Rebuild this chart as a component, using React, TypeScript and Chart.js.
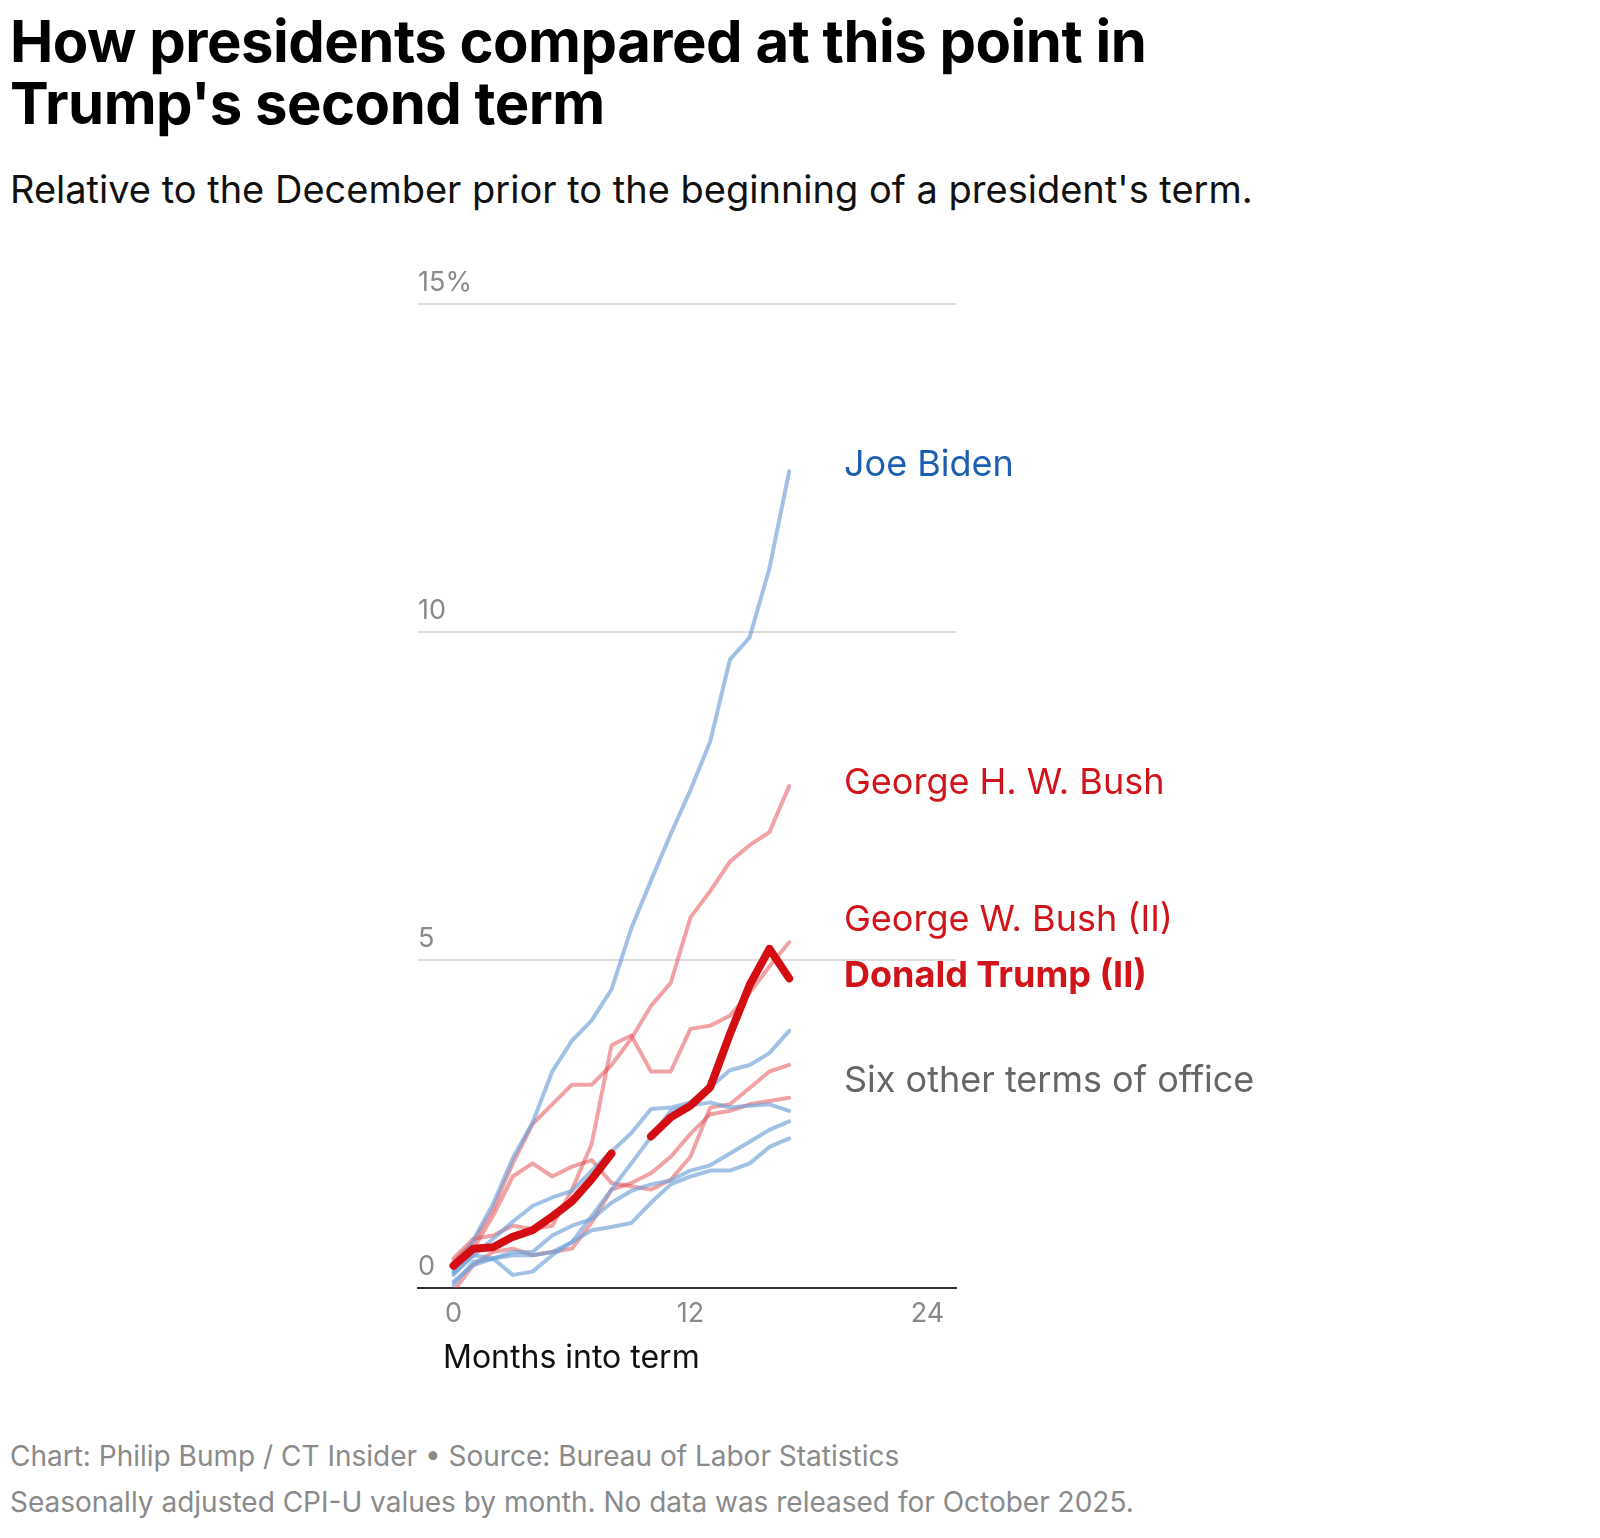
import React, { useEffect, useRef } from "react";
import { Chart, registerables } from "chart.js";
Chart.register(...registerables);

const months = [0, 1, 2, 3, 4, 5, 6, 7, 8, 9, 10, 11, 12, 13, 14, 15, 16, 17];
const biden = [0.26, 0.73, 1.28, 1.98, 2.52, 3.3, 3.77, 4.08, 4.55, 5.48, 6.21, 6.92, 7.59, 8.33, 9.58, 9.92, 10.97, 12.45];
const ghwBush = [0.4, 0.7, 1.2, 1.9, 2.5, 2.8, 3.1, 3.1, 3.4, 3.8, 4.3, 4.65, 5.65, 6.05, 6.5, 6.75, 6.95, 7.65];
const gwBush2 = [0.45, 0.75, 0.8, 0.95, 0.9, 0.95, 1.5, 2.2, 3.7, 3.85, 3.3, 3.3, 3.95, 4.0, 4.15, 4.5, 4.9, 5.27];
const trump2 = [0.34, 0.6, 0.62, 0.78, 0.88, 1.09, 1.32, 1.66, 2.05, null, 2.31, 2.6, 2.78, 3.06, 3.87, 4.62, 5.17, 4.72];
const otherRed1 = [0.3, 0.6, 1.1, 1.7, 1.9, 1.7, 1.85, 1.95, 1.6, 1.55, 1.5, 1.65, 2.0, 2.75, 2.8, 3.05, 3.3, 3.4];
const otherRed2 = [-0.05, 0.35, 0.55, 0.6, 0.5, 0.55, 0.6, 1.0, 1.5, 1.6, 1.75, 2.0, 2.35, 2.65, 2.7, 2.8, 2.85, 2.9];
const otherBlue1 = [0.23, 0.49, 0.75, 1.01, 1.25, 1.38, 1.48, 1.79, 2.08, 2.36, 2.73, 2.75, 2.83, 3.06, 3.32, 3.4, 3.58, 3.92];
const otherBlue2 = [0.2, 0.5, 0.45, 0.2, 0.25, 0.5, 0.7, 1.1, 1.5, 1.9, 2.3, 2.7, 2.78, 2.83, 2.75, 2.78, 2.8, 2.7];
const otherBlue3 = [0.1, 0.35, 0.45, 0.55, 0.55, 0.8, 0.95, 1.05, 1.3, 1.48, 1.58, 1.64, 1.79, 1.87, 2.05, 2.23, 2.41, 2.54];
const otherBlue4 = [0.05, 0.4, 0.45, 0.5, 0.5, 0.55, 0.7, 0.88, 0.93, 0.99, 1.3, 1.58, 1.7, 1.79, 1.79, 1.9, 2.15, 2.28];
const yTicks = [0, 5, 10, 15];
const yTickLabels = ["0", "5", "10", "15%"];
const xTicks = [0, 12, 24];

const BLUE = "rgba(110,160,215,0.65)";
const RED = "rgba(225,70,75,0.5)";
const FONT = "Inter, 'Noto Sans', sans-serif";

const pts = (arr: (number | null)[]) => months.map((m, i) => ({ x: m, y: arr[i] }));

export default function App() {
  const ref = useRef<HTMLCanvasElement>(null);
  useEffect(() => {
    const overlay = {
      id: "overlay",
      afterDraw(chart: any) {
        const { ctx, scales } = chart;
        const xs = scales.x, ys = scales.y;
        const ca = chart.chartArea;
        ctx.save();
        ctx.font = `27px ${FONT}`;
        ctx.fillStyle = "#8a8a8a";
        ctx.textBaseline = "bottom";
        ctx.textAlign = "left";
        yTicks.forEach((v, i) => ctx.fillText(yTickLabels[i], ca.left, ys.getPixelForValue(v) - 8));
        ctx.textAlign = "center";
        ctx.textBaseline = "top";
        xTicks.forEach((v) => ctx.fillText(String(v), xs.getPixelForValue(v), ca.bottom + 12));
        ctx.fillStyle = "#111";
        ctx.font = `32px ${FONT}`;
        ctx.textAlign = "left";
        ctx.fillText("Months into term", ca.left + 25, ca.bottom + 54);
        const lx = ca.right - 112;
        const lab = (t: string, v: number, c: string, w = 400) => {
          ctx.font = `${w} 36px ${FONT}`;
          ctx.fillStyle = c;
          ctx.textBaseline = "middle";
          ctx.fillText(t, lx, ys.getPixelForValue(v));
        };
        lab("Joe Biden", 12.55, "#1a5fb0");
        lab("George H. W. Bush", 7.7, "#d0141a");
        lab("George W. Bush (II)", 5.6, "#d0141a");
        lab("Donald Trump (II)", 4.75, "#d0141a", 700);
        lab("Six other terms of office", 3.15, "#666");
        ctx.restore();
      },
    };
    const mk = (arr: (number | null)[], color: string, width = 4, order = 2) => ({
      data: pts(arr), borderColor: color, borderWidth: width, pointRadius: 0,
      fill: false, tension: 0, spanGaps: false, order, borderJoinStyle: "round" as const, borderCapStyle: "round" as const,
    });
    const chart = new Chart(ref.current!, {
      type: "line",
      data: {
        datasets: [
          mk(trump2, "#d40d12", 8, 0),
          mk(biden, BLUE), mk(otherBlue1, BLUE), mk(otherBlue2, BLUE), mk(otherBlue3, BLUE), mk(otherBlue4, BLUE),
          mk(ghwBush, RED), mk(gwBush2, RED), mk(otherRed1, RED), mk(otherRed2, RED),
        ] as any,
      },
      options: {
        animation: false, responsive: false,
        layout: { padding: { left: 410, right: 636, top: 74, bottom: 84 } },
        plugins: { legend: { display: false }, tooltip: { enabled: false } },
        scales: {
          x: {
            type: "linear", min: -1.8, max: 25.45,
            ticks: { display: false }, grid: { display: false },
            border: { display: true, color: "#333", width: 2 },
          },
          y: {
            min: 0, max: 15,
            ticks: { display: false, stepSize: 5 },
            grid: { color: (c: any) => (c.tick.value === 0 ? "rgba(0,0,0,0)" : "#dedede"), lineWidth: 2, drawTicks: false },
            border: { display: false },
          },
        },
      },
      plugins: [overlay],
    });
    return () => chart.destroy();
  }, []);
  return (
    <div style={{ fontFamily: FONT, position: "relative", width: 1584, height: 1522 }}>
      <div style={{ position: "absolute", left: 2, top: 2, fontSize: 58, fontWeight: 700, lineHeight: "62px", color: "#000", letterSpacing: -0.5 }}>
        How presidents compared at this point in<br />Trump's second term
      </div>
      <div style={{ position: "absolute", left: 2, top: 158, fontSize: 38, color: "#111" }}>
        Relative to the December prior to the beginning of a president's term.
      </div>
      <canvas ref={ref} width={1584} height={1150} style={{ position: "absolute", left: 0, top: 222 }} />
      <div style={{ position: "absolute", left: 2, top: 1425, fontSize: 28, color: "#8a8a8a", lineHeight: "46px" }}>
        Chart: Philip Bump / CT Insider • Source: Bureau of Labor Statistics<br />
        Seasonally adjusted CPI-U values by month. No data was released for October 2025.
      </div>
    </div>
  );
}
